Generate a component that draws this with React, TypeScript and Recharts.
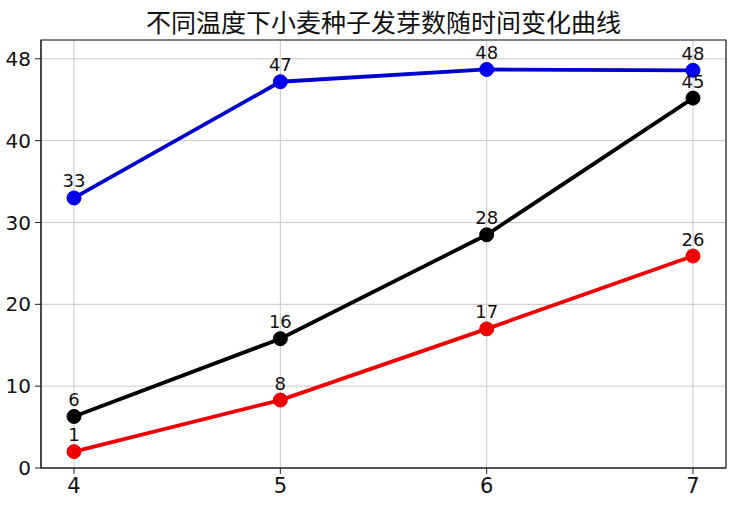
import React from 'react';
import { LineChart, Line, XAxis, YAxis, CartesianGrid, ReferenceArea } from 'recharts';

const days = [4, 5, 6, 7];
// plotted positions; the annotations are the printed integers
const blueValues = [33.0, 47.2, 48.7, 48.6];
const blackValues = [6.3, 15.8, 28.5, 45.2];
const redValues = [2.0, 8.3, 17.0, 25.9];
const blueLabels = ['33', '47', '48', '48'];
const blackLabels = ['6', '16', '28', '45'];
const redLabels = ['1', '8', '17', '26'];
const yTicks = [0, 10, 20, 30, 40, 50];
const yTickLabels = ['0', '10', '20', '30', '40', '48'];

const data = days.map((d, i) => ({
  day: d,
  blue: blueValues[i],
  black: blackValues[i],
  red: redValues[i],
}));

const X_MIN = 3.84;
const X_MAX = 7.16;
const Y_MAX = 52.3;

const makeLabel = (labels: string[]) => (props: any) => (
  <text
    key={`l-${props.index}`}
    x={props.x}
    y={props.y - 17}
    textAnchor="middle"
    dominantBaseline="central"
    fontSize={18}
    fill="#111"
    fontFamily="DejaVu Sans"
  >
    {labels[props.index]}
  </text>
);

const App: React.FC = () => {
  return (
    <div style={{ width: 744, height: 520, background: '#fff', position: 'relative' }}>
      <style>{`body{margin:0}`}</style>
      <div
        style={{
          position: 'absolute',
          top: 3,
          left: 41,
          width: 685,
          textAlign: 'center',
          fontFamily: '"Noto Sans CJK SC", sans-serif',
          fontSize: 25,
          color: '#111',
        }}
      >
        不同温度下小麦种子发芽数随时间变化曲线
      </div>
      <LineChart
        width={744}
        height={520}
        data={data}
        margin={{ top: 40, right: 18, left: 0, bottom: 22 }}
        style={{ fontFamily: 'DejaVu Sans' }}
      >
        <CartesianGrid stroke="#c8c8c8" strokeWidth={1} />
        <XAxis
          dataKey="day"
          type="number"
          domain={[X_MIN, X_MAX]}
          ticks={days}
          allowDataOverflow
          height={30}
          tickSize={6}
          tickMargin={4}
          stroke="#222"
          tick={{ fill: '#111', fontSize: 21 }}
        />
        <YAxis
          type="number"
          domain={[0, Y_MAX]}
          ticks={yTicks}
          allowDataOverflow
          width={41}
          tickSize={6}
          tickMargin={4}
          stroke="#222"
          tick={{ fill: '#111', fontSize: 20 }}
          tickFormatter={(v: number) => yTickLabels[yTicks.indexOf(v)] ?? String(v)}
        />
        <ReferenceArea x1={X_MIN} x2={X_MAX} y1={0} y2={Y_MAX} fill="none" stroke="#222" strokeWidth={1.2} />
        <Line
          dataKey="blue"
          stroke="#0000cc"
          strokeWidth={3.8}
          dot={{ r: 7, fill: '#0000ee', stroke: '#0000ee', strokeWidth: 1 }}
          label={makeLabel(blueLabels)}
          isAnimationActive={false}
        />
        <Line
          dataKey="black"
          stroke="#000"
          strokeWidth={3.8}
          dot={{ r: 7, fill: '#000', stroke: '#000', strokeWidth: 1 }}
          label={makeLabel(blackLabels)}
          isAnimationActive={false}
        />
        <Line
          dataKey="red"
          stroke="#ee0000"
          strokeWidth={3.8}
          dot={{ r: 7, fill: '#ee0000', stroke: '#ee0000', strokeWidth: 1 }}
          label={makeLabel(redLabels)}
          isAnimationActive={false}
        />
      </LineChart>
    </div>
  );
};

export default App;
